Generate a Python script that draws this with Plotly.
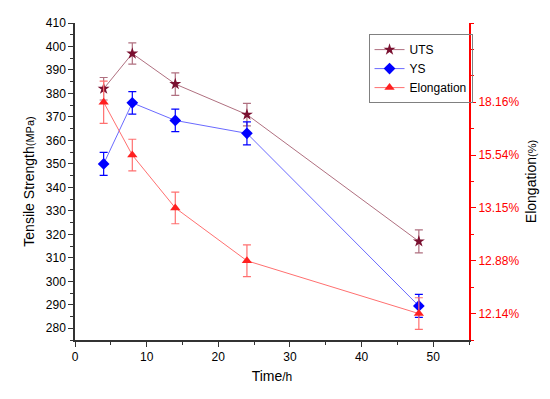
import plotly.graph_objects as go

# ---- data ----
time_h = [4, 8, 14, 24, 48]
uts = [382, 397, 384, 371, 317]
uts_err = [4.8, 4.5, 4.8, 4.8, 4.9]
ys = [350, 376, 368.5, 363, 289.5]
ys_err = [4.9, 4.8, 4.8, 4.9, 4.9]
elong = [18.16, 15.54, 13.15, 12.88, 12.14]          # %
elong_err_pos = [0.8, 0.6, 0.6, 0.6, 0.6]             # in right-axis plotting units

# right axis is an ordinal axis: each elongation value is placed on its own slot
order = sorted(elong)
elong_pos = [2 * order.index(v) + 1 for v in elong]
elong_ticktext = ["%.2f%%" % v for v in order]
elong_tickvals = [2 * i + 1 for i in range(len(order))]

UTS_C = "#7a1030"
UTS_L = "#b07080"
YS_C = "#0000ff"
YS_L = "#6a6aff"
EL_C = "#ff2020"
EL_L = "#ff7070"

fig = go.Figure()
fig.add_trace(go.Scatter(
    x=time_h, y=uts, name="UTS", mode="lines+markers",
    line=dict(color=UTS_L, width=1),
    marker=dict(symbol="star", size=9, color=UTS_C),
    error_y=dict(type="data", array=uts_err, color=UTS_L, thickness=1.2, width=4),
))
fig.add_trace(go.Scatter(
    x=time_h, y=ys, name="YS", mode="lines+markers",
    line=dict(color=YS_L, width=1),
    marker=dict(symbol="diamond", size=9, color=YS_C),
    error_y=dict(type="data", array=ys_err, color=YS_C, thickness=1.2, width=4),
))
fig.add_trace(go.Scatter(
    x=time_h, y=elong_pos, name="Elongation", mode="lines+markers", yaxis="y2",
    line=dict(color=EL_L, width=1),
    marker=dict(symbol="triangle-up", size=9, color=EL_C),
    error_y=dict(type="data", array=elong_err_pos, color=EL_L, thickness=1.2, width=4),
))

font = "Liberation Sans, Arial, sans-serif"
fig.update_layout(
    width=550, height=399,
    margin=dict(l=75, r=81, t=23, b=59),
    paper_bgcolor="white", plot_bgcolor="white",
    font=dict(family=font, size=12, color="black"),
    showlegend=True,
    legend=dict(x=0.745, y=0.965, xanchor="left", yanchor="top",
                bordercolor="#808080", borderwidth=1, bgcolor="rgba(255,255,255,0)",
                font=dict(size=12), tracegroupgap=0),
    xaxis=dict(
        range=[0, 55], tickvals=[0, 10, 20, 30, 40, 50], automargin=False,
        showline=True, linecolor="#333333", linewidth=1.5,
        ticks="outside", ticklen=5, tickcolor="#333333",
        minor=dict(dtick=5, tick0=0, ticks="outside", ticklen=3, tickcolor="#333333"),
        showgrid=False, zeroline=False,
        title=dict(text="Time<span style='font-size:12px'>/h</span>", font=dict(size=14), standoff=8),
    ),
    yaxis=dict(
        range=[275, 410], tickvals=list(range(280, 411, 10)), automargin=False,
        showline=True, linecolor="#333333", linewidth=1.5,
        ticks="outside", ticklen=5, tickcolor="#333333",
        minor=dict(dtick=5, tick0=275, ticks="outside", ticklen=3, tickcolor="#333333"),
        showgrid=False, zeroline=False,
        title=dict(text="Tensile Strength<span style='font-size:11px'>(MPa)</span>", font=dict(size=14), standoff=8),
    ),
    yaxis2=dict(
        overlaying="y", side="right", range=[0, 12], automargin=False,
        tickvals=elong_tickvals, ticktext=elong_ticktext,
        showline=True, linecolor="#ff0000", linewidth=2,
        ticks="outside", ticklen=5, tickcolor="#ff0000",
        tickfont=dict(color="#ff0000", size=12),
        minor=dict(dtick=1, tick0=0, ticks="outside", ticklen=3, tickcolor="#ff0000"),
        showgrid=False, zeroline=False,
        title=dict(text="Elongation<span style='font-size:11px'>(%)</span>", font=dict(size=14, color="black"), standoff=8),
    ),
)

fig.write_html("out.html", config={"displayModeBar": False},
               post_script="document.body.style.margin='0px';document.body.style.overflow='hidden';")
